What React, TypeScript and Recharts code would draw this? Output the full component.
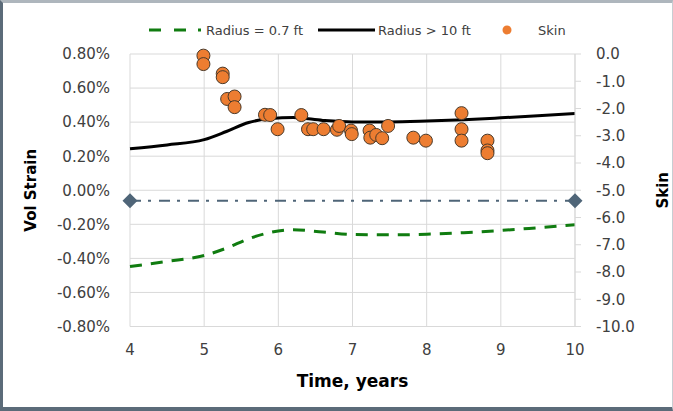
import React from 'react'
import {
  ComposedChart,
  Line,
  Scatter,
  XAxis,
  YAxis,
  CartesianGrid,
} from 'recharts'

// time axis points shared by both strain curves
const years = [4, 4.5, 5, 5.3, 5.6, 5.9, 6.2, 6.6, 7, 7.5, 8, 8.5, 9, 9.5, 10]
// vol strain, percent
const radius07 = [-0.448, -0.418, -0.383, -0.34, -0.285, -0.247, -0.232, -0.245, -0.26, -0.262, -0.258, -0.249, -0.236, -0.22, -0.203]
const radius10 = [0.243, 0.266, 0.297, 0.345, 0.398, 0.421, 0.427, 0.41, 0.401, 0.401, 0.406, 0.414, 0.425, 0.437, 0.45]

// skin measurements
const skinYears = [4.99, 4.99, 5.25, 5.25, 5.31, 5.41, 5.41, 5.82, 5.89, 5.99, 6.31, 6.4, 6.47, 6.61, 6.79, 6.82, 6.98, 6.99, 7.23, 7.24, 7.32, 7.4, 7.48, 7.82, 7.99, 8.47, 8.47, 8.47, 8.82, 8.82, 8.82]
const skinValues = [-0.06, -0.37, -0.72, -0.85, -1.65, -1.56, -1.95, -2.23, -2.24, -2.76, -2.24, -2.76, -2.76, -2.76, -2.78, -2.64, -2.81, -2.94, -2.81, -3.07, -2.97, -3.09, -2.64, -3.07, -3.18, -2.17, -2.76, -3.18, -3.18, -3.54, -3.64]

// dash-dot reference
const refYears = [4, 10]
const refValues = [-0.062, -0.062]

const xTicks = [4, 5, 6, 7, 8, 9, 10]
const strainTicks = [-0.8, -0.6, -0.4, -0.2, 0, 0.2, 0.4, 0.6, 0.8]
const skinTicks = [-10, -9, -8, -7, -6, -5, -4, -3, -2, -1, 0]

const curveData = years.map((x, i) => ({ x, r07: radius07[i], r10: radius10[i] }))
const skinData = skinYears.map((x, i) => ({ x, skin: skinValues[i] }))
const refData = refYears.map((x, i) => ({ x, ref: refValues[i] }))

const FONT = '"DejaVu Sans", sans-serif'
const TEXT = '#404040'
const GRID = '#d9d9d9'
const ORANGE = '#ed7d31'
const GREEN = '#107c10'
const SLATE = '#4f6578'

const tickStyle = { fontSize: 15, fill: TEXT, fontFamily: FONT }

const Diamond = (p: any) => {
  if (p.cx == null || p.cy == null) return null
  const s = 7.5
  return (
    <polygon
      key={p.index}
      points={`${p.cx},${p.cy - s} ${p.cx + s},${p.cy} ${p.cx},${p.cy + s} ${p.cx - s},${p.cy}`}
      fill={SLATE}
    />
  )
}

const SkinDot = (p: any) => (
  <circle cx={p.cx} cy={p.cy} r={6.5} fill={ORANGE} stroke="#4a3a2a" strokeWidth={1} />
)

function ChartLegend() {
  return (
    <svg width={673} height={45} style={{ position: 'absolute', left: 0, top: 0 }}>
      <g fontFamily={FONT} fontSize={13} fill={TEXT}>
        <line x1={149} x2={202} y1={30} y2={30} stroke={GREEN} strokeWidth={3} strokeDasharray="12 13 12 12 3 60" />
        <text x={206} y={34.5}>Radius = 0.7 ft</text>
        <line x1={318} x2={375} y1={30} y2={30} stroke="#000" strokeWidth={3} />
        <text x={378} y={34.5}>Radius &gt; 10 ft</text>
        <circle cx={507} cy={30} r={4.5} fill={ORANGE} />
        <text x={538} y={34.5}>Skin</text>
      </g>
    </svg>
  )
}

export default function App() {
  return (
    <div style={{ position: 'absolute', left: 0, top: 0, width: 673, height: 411, background: '#fff' }}>
      <ComposedChart
        width={673}
        height={411}
        data={curveData}
        margin={{ top: 54, right: 0, bottom: 0, left: 0 }}
      >
        <CartesianGrid stroke={GRID} yAxisId="left" />
        <XAxis
          dataKey="x"
          type="number"
          domain={[4, 10]}
          ticks={xTicks}
          height={84.5}
          axisLine={{ stroke: GRID }}
          tickLine={false}
          tickSize={6}
          tickMargin={12}
          tick={tickStyle}
          label={{
            content: (p: any) => {
              const vb = p.viewBox
              return (
                <text x={vb.x + vb.width / 2} y={387} textAnchor="middle" fontFamily={FONT} fontSize={17} fontWeight="bold" fill="#000">
                  Time, years
                </text>
              )
            },
          }}
        />
        <YAxis
          yAxisId="left"
          orientation="left"
          type="number"
          domain={[-0.8, 0.8]}
          ticks={strainTicks}
          width={130}
          axisLine={false}
          tickLine={false}
          tickSize={6}
          tickMargin={14}
          tick={tickStyle}
          tickFormatter={(v: number) => v.toFixed(2) + '%'}
          label={{
            content: (p: any) => {
              const vb = p.viewBox
              const cx = 35.5
              const cy = vb.y + vb.height / 2
              return (
                <text x={cx} y={cy} transform={`rotate(-90 ${cx} ${cy})`} textAnchor="middle" fontFamily={FONT} fontSize={15} fontWeight="bold" fill="#000">
                  Vol Strain
                </text>
              )
            },
          }}
        />
        <YAxis
          yAxisId="right"
          orientation="right"
          type="number"
          dataKey="skin"
          domain={[-10, 0]}
          ticks={skinTicks}
          width={98}
          axisLine={{ stroke: GRID }}
          tickLine={{ stroke: GRID }}
          tickSize={6}
          tickMargin={15}
          tick={{ ...tickStyle, textAnchor: 'start' }}
          tickFormatter={(v: number) => v.toFixed(1)}
          label={{
            content: (p: any) => {
              const vb = p.viewBox
              const cx = vb.x + 92.5
              const cy = vb.y + vb.height / 2
              return (
                <text x={cx} y={cy} transform={`rotate(-90 ${cx} ${cy})`} textAnchor="middle" fontFamily={FONT} fontSize={15} fontWeight="bold" fill="#000">
                  Skin
                </text>
              )
            },
          }}
        />
        <Line
          yAxisId="left"
          data={refData}
          dataKey="ref"
          stroke={SLATE}
          strokeWidth={2}
          strokeDasharray="11 7 3 8"
          dot={Diamond}
          activeDot={false}
          isAnimationActive={false}
        />
        <Line
          yAxisId="left"
          type="monotone"
          dataKey="r07"
          stroke={GREEN}
          strokeWidth={3}
          strokeDasharray="12 9"
          dot={false}
          activeDot={false}
          isAnimationActive={false}
        />
        <Line
          yAxisId="left"
          type="monotone"
          dataKey="r10"
          stroke="#000"
          strokeWidth={3}
          dot={false}
          activeDot={false}
          isAnimationActive={false}
        />
        <Scatter
          yAxisId="right"
          data={skinData}
          dataKey="skin"
          shape={SkinDot}
          isAnimationActive={false}
        />
      </ComposedChart>
      <ChartLegend />
      <div
        style={{
          position: 'absolute',
          left: 0,
          top: 0,
          width: 673,
          height: 411,
          boxSizing: 'border-box',
          borderTop: '3px solid #aeb6bd',
          borderLeft: '3px solid #5b6b79',
          borderBottom: '4px solid #5b6b79',
          borderRight: '1px solid #c8cdd2',
          pointerEvents: 'none',
        }}
      />
    </div>
  )
}
